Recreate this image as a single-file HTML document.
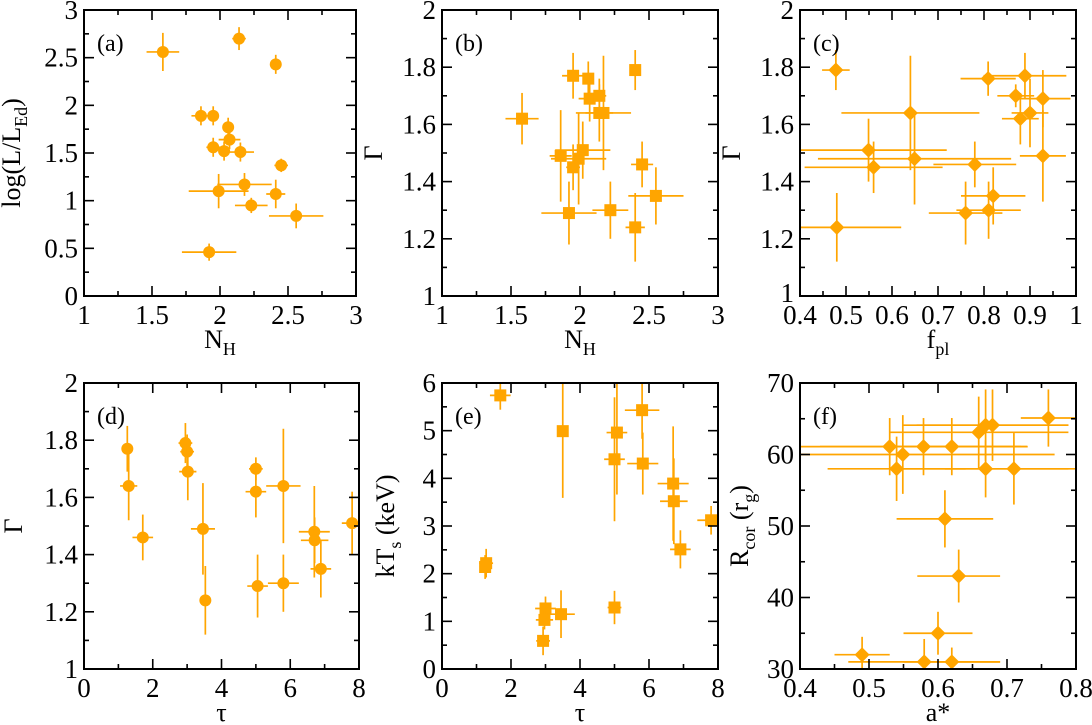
<!DOCTYPE html>
<html><head><meta charset="utf-8"><style>
html,body{margin:0;padding:0;background:#fff;}
svg{display:block;}
svg text{font-family:"Liberation Serif","Times New Roman",serif;}
</style></head><body>
<svg id="fig" width="1092" height="725" viewBox="0 0 1092 725" font-family="Liberation Serif, serif"></svg>
<script>
// Panel (a)
const aX=[1.58,2.14,2.41,1.86,1.95,2.06,2.07,1.95,2.03,2.15,2.45,1.99,2.18,2.41,2.23,2.56,1.92];
const aY=[2.56,2.70,2.43,1.89,1.89,1.77,1.64,1.56,1.52,1.51,1.37,1.10,1.17,1.07,0.95,0.84,0.46];
const aXe=[0.12,0.05,0.02,0.07,0.04,0.03,0.08,0.05,0.03,0.1,0.05,0.22,0.2,0.07,0.12,0.2,0.2];
const aYe=[0.2,0.12,0.1,0.1,0.1,0.1,0.1,0.1,0.1,0.1,0.07,0.18,0.12,0.15,0.08,0.13,0.09];
// Panel (b)
const bX=[1.58,1.95,2.06,2.40,2.07,2.14,2.17,2.14,1.86,2.02,1.99,1.95,2.45,2.55,1.92,2.22,2.40];
const bY=[1.62,1.77,1.76,1.79,1.69,1.70,1.64,1.64,1.49,1.51,1.48,1.45,1.46,1.35,1.29,1.30,1.24];
const bXe=[0.12,0.08,0.03,0.04,0.08,0.05,0.2,0.1,0.08,0.2,0.2,0.05,0.08,0.2,0.2,0.13,0.07];
const bYe=[0.09,0.08,0.06,0.07,0.08,0.06,0.2,0.1,0.16,0.1,0.16,0.08,0.08,0.1,0.11,0.1,0.12];
// Panel (c)
const cX=[0.478,0.809,0.889,0.869,0.879,0.90,0.928,0.928,0.64,0.549,0.56,0.649,0.78,0.82,0.81,0.76,0.48];
const cY=[1.79,1.76,1.77,1.70,1.62,1.64,1.69,1.49,1.64,1.51,1.45,1.48,1.46,1.35,1.30,1.29,1.24];
const cXe=[0.03,0.06,0.09,0.04,0.04,0.04,0.06,0.05,0.15,0.17,0.15,0.21,0.09,0.07,0.07,0.08,0.14];
const cYe=[0.07,0.06,0.08,0.04,0.09,0.12,0.1,0.16,0.2,0.11,0.09,0.16,0.08,0.1,0.1,0.11,0.12];
// Panel (d)
const dX=[1.26,1.30,1.71,2.95,3.00,3.02,3.46,3.53,5.0,5.0,5.05,5.8,5.8,6.7,6.71,6.89,7.8];
const dY=[1.77,1.64,1.46,1.79,1.76,1.69,1.49,1.24,1.70,1.62,1.29,1.64,1.30,1.48,1.45,1.35,1.51];
const dXe=[0.1,0.25,0.3,0.2,0.2,0.25,0.35,0.05,0.2,0.3,0.3,0.5,0.45,0.45,0.4,0.3,0.3];
const dYe=[0.08,0.12,0.08,0.07,0.06,0.1,0.16,0.12,0.04,0.09,0.11,0.2,0.1,0.16,0.08,0.1,0.11];
// Panel (e)
const eX=[1.69,1.28,1.25,3.5,5.07,5.0,5.8,5.82,6.7,6.72,6.91,7.8,3.0,2.97,2.93,3.45,5.0];
const eY=[5.74,2.22,2.14,4.99,4.96,4.40,5.43,4.31,3.89,3.52,2.51,3.12,1.27,1.03,0.59,1.15,1.29];
const eXe=[0.3,0.2,0.15,0.1,0.3,0.3,0.5,0.45,0.45,0.4,0.3,0.4,0.3,0.25,0.2,0.4,0.2];
const eYe=[0.3,0.3,0.25,1.4,1.3,1.3,0.6,0.65,1.2,0.9,0.4,0.3,0.25,0.2,0.3,0.5,0.35];
// Panel (f)
const fX=[0.76,0.679,0.669,0.659,0.53,0.549,0.579,0.62,0.54,0.669,0.71,0.61,0.63,0.60,0.49,0.58,0.62];
const fY=[65.1,64.1,64.1,63.1,61.1,60.0,61.1,61.1,58.0,58.0,58.0,51.0,43.0,35.0,32.0,31.0,31.0];
const fXe=[0.04,0.11,0.12,0.13,0.2,0.22,0.15,0.1,0.1,0.12,0.1,0.07,0.06,0.05,0.04,0.11,0.07];
const fYe=[4,5,5,5,4,5.5,4,4,4.5,4,5,4,3.7,3,2.5,3.2,2];

const NS='http://www.w3.org/2000/svg';
const svg=document.getElementById('fig');
const OR='#FFA500';
const FF='Liberation Serif, serif';
function mk(tag,attrs,parent){const e=document.createElementNS(NS,tag);for(const k in attrs)e.setAttribute(k,attrs[k]);if(tag==='text')e.setAttribute('font-family',FF);(parent||svg).appendChild(e);return e;}

function panel(o){
  const g=mk('g',{});
  
  
  const sx=v=>o.L+(v-o.x0)/(o.x1-o.x0)*(o.R-o.L);
  const sy=v=>o.B-(v-o.y0)/(o.y1-o.y0)*(o.B-o.T);
  const clip='clip'+o.id;
  const cp=mk('clipPath',{id:clip},g);mk('rect',{x:o.L,y:o.T,width:o.R-o.L,height:o.B-o.T},cp);
  const dg=mk('g',{'clip-path':'url(#'+clip+')'},g);
  
  
  for(let i=0;i<o.X.length;i++){
    const x=sx(o.X[i]),y=sy(o.Y[i]);
    mk('line',{x1:sx(o.X[i]-o.Xe[i]),x2:sx(o.X[i]+o.Xe[i]),y1:y,y2:y,stroke:OR,'stroke-width':1.7},dg);
    mk('line',{x1:x,x2:x,y1:sy(o.Y[i]-o.Ye[i]),y2:sy(o.Y[i]+o.Ye[i]),stroke:OR,'stroke-width':1.7},dg);
    let m;
    if(o.mk==='c') m=mk('circle',{cx:x,cy:y,r:6,fill:OR},dg);
    else if(o.mk==='s') m=mk('rect',{x:x-6,y:y-6,width:12,height:12,fill:OR},dg);
    else m=mk('polygon',{points:`${x},${y-7.5} ${x+7.5},${y} ${x},${y+7.5} ${x-7.5},${y}`,fill:OR},dg);
    
    
  }
  const tg=mk('g',{stroke:'#000','stroke-width':1.6},g);
  for(let v=o.x0;v<=o.x1+1e-9;v+=o.xm){const x=sx(v);const maj=Math.abs(Math.round((v-o.x0)/o.xM)*o.xM-(v-o.x0))<1e-6;const l=maj?10:5;
    mk('line',{x1:x,x2:x,y1:o.B,y2:o.B-l},tg);mk('line',{x1:x,x2:x,y1:o.T,y2:o.T+l},tg);}
  for(let v=o.y0;v<=o.y1+1e-9;v+=o.ym){const y=sy(v);const maj=Math.abs(Math.round((v-o.y0)/o.yM)*o.yM-(v-o.y0))<1e-6;const l=maj?10:5;
    mk('line',{x1:o.L,x2:o.L+l,y1:y,y2:y},tg);mk('line',{x1:o.R,x2:o.R-l,y1:y,y2:y},tg);}
  const fr=mk('rect',{x:o.L,y:o.T,width:o.R-o.L,height:o.B-o.T,fill:'none',stroke:'#000','stroke-width':2},g);
  
  
  o.xt.forEach(t=>{const e=mk('text',{x:sx(t),y:o.B+28,'text-anchor':'middle','font-size':27},g);e.textContent=String(t);
    
    });
  o.yt.forEach(t=>{const e=mk('text',{x:o.L-6,y:sy(t)+9,'text-anchor':'end','font-size':27},g);e.textContent=String(t);
    
    });
  const pl=mk('text',{x:o.L+13,y:o.T+41,'font-size':24},g);pl.textContent='('+o.id+')';
  
  
  const xl=mk('text',{x:(o.L+o.R)/2,y:o.B+52,'text-anchor':'middle','font-size':26},g);xl.innerHTML=o.xl;
  
  
  const cy=(o.T+o.B)/2;
  const yx=o.L-o.yo;
  const yl=mk('text',{x:yx,y:cy,'text-anchor':'middle','font-size':26,transform:`rotate(-90 ${yx} ${cy})`},g);yl.innerHTML=o.yl;
  
  
}
const sub=(a,b)=>a+'<tspan font-size="18" dy="7">'+b+'</tspan>';
panel({id:'a',L:84,R:356,T:10,B:296,x0:1,x1:3,y0:0,y1:3,xM:0.5,xm:0.25,yM:0.5,ym:0.25,xt:[1,1.5,2,2.5,3],yt:[0,0.5,1,1.5,2,2.5,3],yo:64,
  X:aX,Y:aY,Xe:aXe,Ye:aYe,mk:'c',xl:sub('N','H'),yl:'log(L/L<tspan font-size="18" dy="7">Ed</tspan><tspan dy="-7">)</tspan>'});
panel({id:'b',L:442,R:718,T:10,B:296,x0:1,x1:3,y0:1,y1:2,xM:0.5,xm:0.25,yM:0.2,ym:0.1,xt:[1,1.5,2,2.5,3],yt:[1,1.2,1.4,1.6,1.8,2],yo:60,
  X:bX,Y:bY,Xe:bXe,Ye:bYe,mk:'s',xl:sub('N','H'),yl:'Γ'});
panel({id:'c',L:800,R:1076,T:10,B:296,x0:0.4,x1:1,y0:1,y1:2,xM:0.1,xm:0.05,yM:0.2,ym:0.1,xt:[0.4,0.5,0.6,0.7,0.8,0.9,1],yt:[1.2,1.4,1.6,1.8,2],yo:60,
  X:cX,Y:cY,Xe:cXe,Ye:cYe,mk:'d',xl:sub('f','pl'),yl:'Γ'});
panel({id:'d',L:84,R:359,T:383,B:669,x0:0,x1:8,y0:1,y1:2,xM:2,xm:1,yM:0.2,ym:0.1,xt:[0,2,4,6,8],yt:[1,1.2,1.4,1.6,1.8,2],yo:62,
  X:dX,Y:dY,Xe:dXe,Ye:dYe,mk:'c',xl:'τ',yl:'Γ'});
panel({id:'e',L:442,R:718,T:383,B:669,x0:0,x1:8,y0:0,y1:6,xM:2,xm:1,yM:1,ym:0.5,xt:[0,2,4,6,8],yt:[0,1,2,3,4,5,6],yo:48,
  X:eX,Y:eY,Xe:eXe,Ye:eYe,mk:'s',xl:'τ',yl:'kT<tspan font-size="18" dy="7">s</tspan><tspan dy="-7"> (keV)</tspan>'});
panel({id:'f',L:800,R:1076,T:383,B:669,x0:0.4,x1:0.8,y0:30,y1:70,xM:0.1,xm:0.05,yM:10,ym:5,xt:[0.4,0.5,0.6,0.7,0.8],yt:[30,40,50,60,70],yo:52,
  X:fX,Y:fY,Xe:fXe,Ye:fYe,mk:'d',xl:'a*',yl:'R<tspan font-size="18" dy="7">cor</tspan><tspan dy="-7"> (r</tspan><tspan font-size="18" dy="7">g</tspan><tspan dy="-7">)</tspan>'});
// panel c bottom-left "1" label placed like reference (overlapping 0.4 row)
(function(){const e=mk('text',{x:794,y:302,'text-anchor':'end','font-size':27});e.textContent='1';

})();
</script>
</body></html>
